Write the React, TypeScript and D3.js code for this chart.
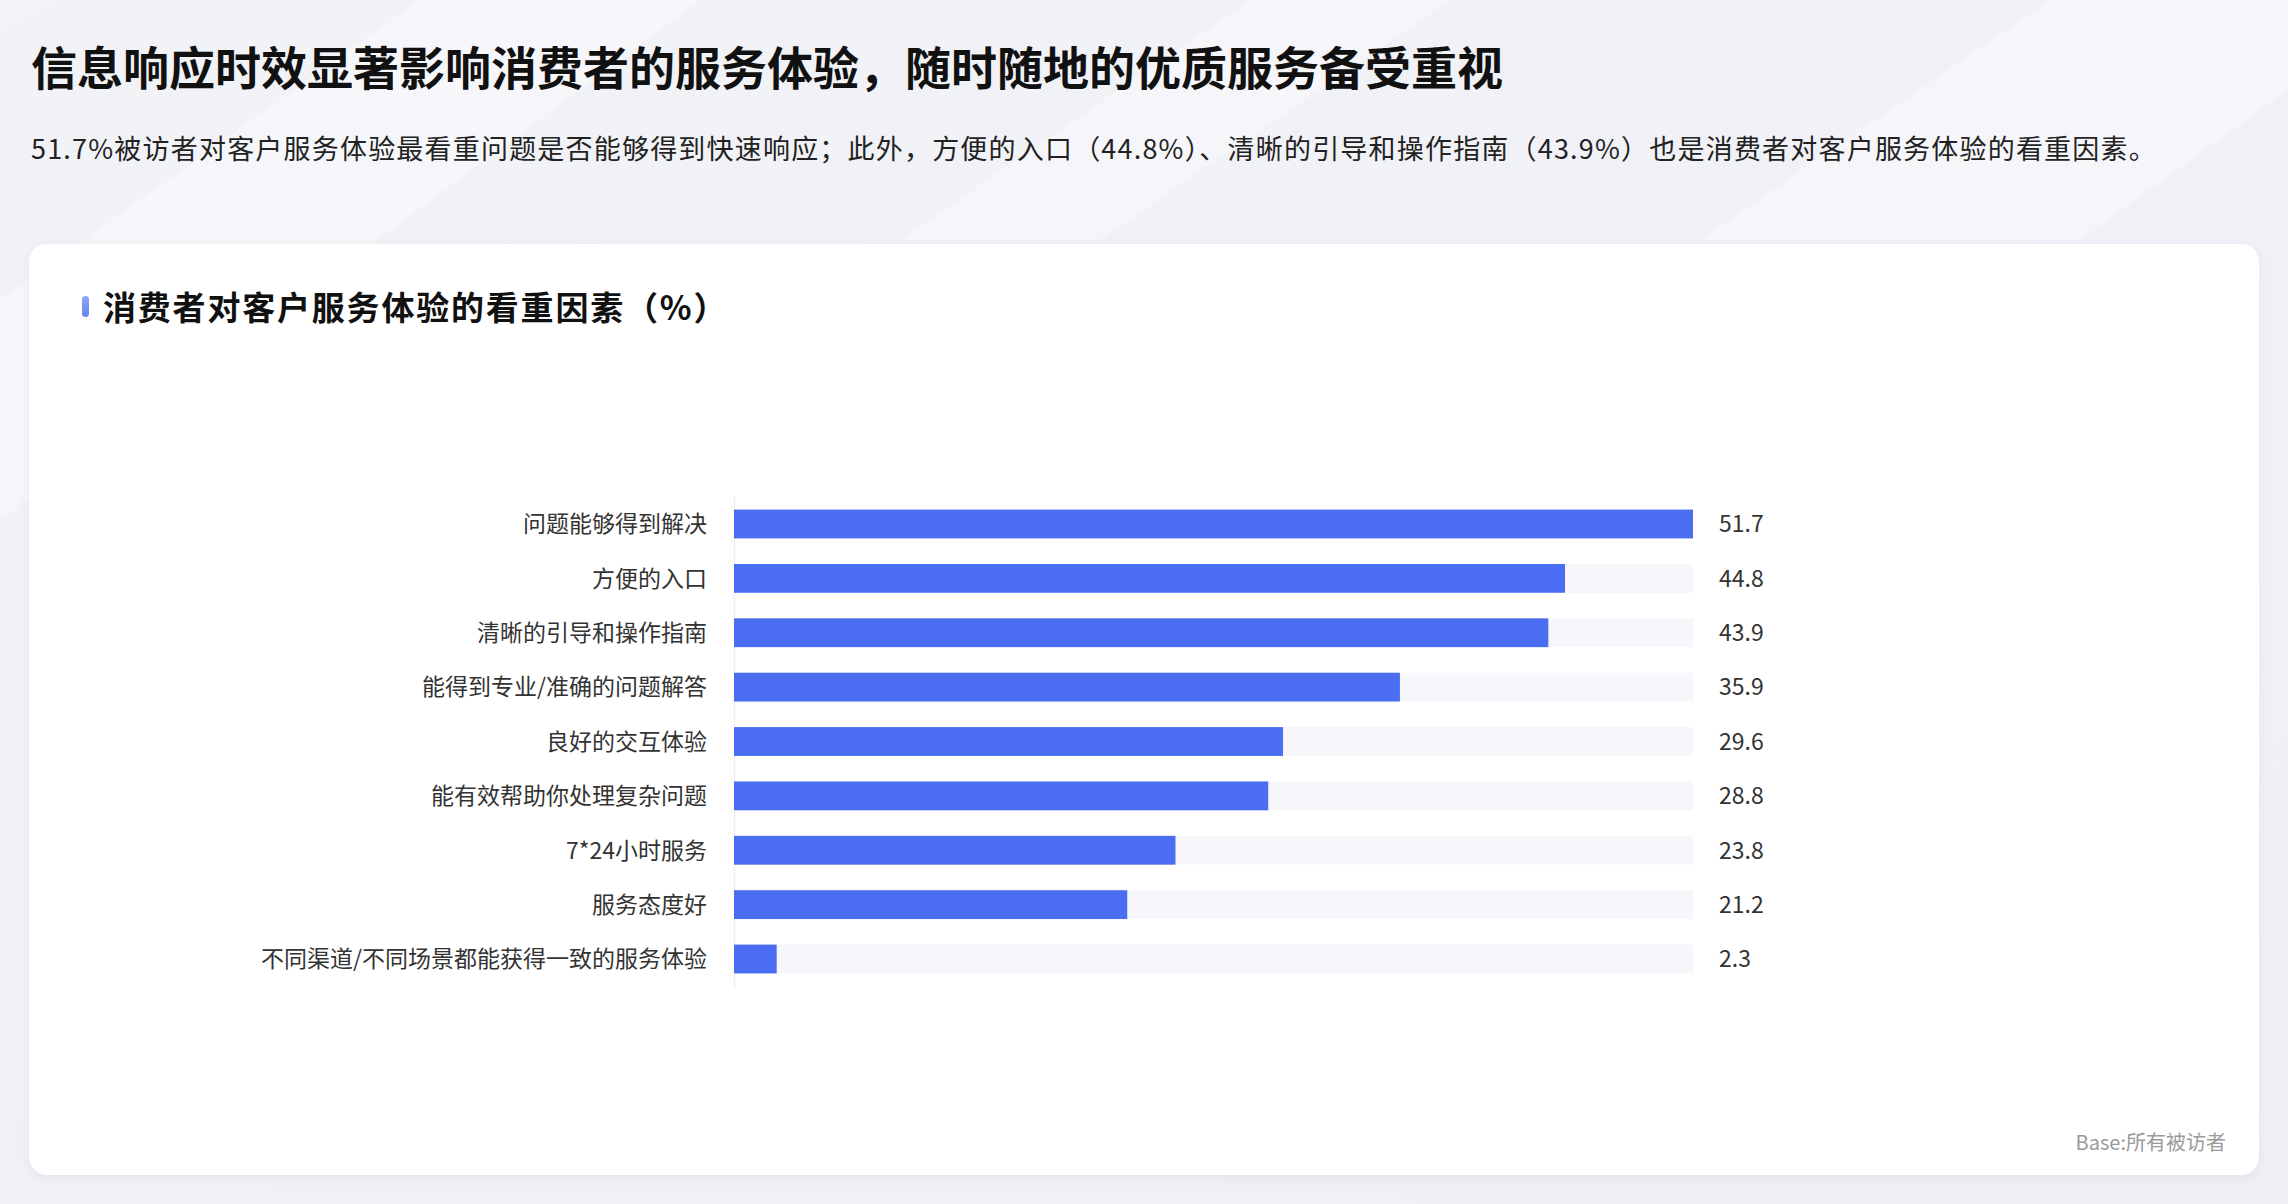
import React, { useEffect, useRef } from 'react';
import * as d3 from 'd3';

// chart data
const categories = [
  '问题能够得到解决',
  '方便的入口',
  '清晰的引导和操作指南',
  '能得到专业/准确的问题解答',
  '良好的交互体验',
  '能有效帮助你处理复杂问题',
  '7*24小时服务',
  '服务态度好',
  '不同渠道/不同场景都能获得一致的服务体验',
];
const values = [51.7, 44.8, 43.9, 35.9, 29.6, 28.8, 23.8, 21.2, 2.3];

const pageTitle = '信息响应时效显著影响消费者的服务体验，随时随地的优质服务备受重视';
const pageSubtitle =
  '51.7%被访者对客户服务体验最看重问题是否能够得到快速响应；此外，方便的入口（44.8%）、清晰的引导和操作指南（43.9%）也是消费者对客户服务体验的看重因素。';
const chartTitle = '消费者对客户服务体验的看重因素（%）';
const baseNote = 'Base:所有被访者';

const W = 2288;
const H = 1204;
const FONT = '"Noto Sans CJK SC", "Noto Sans", sans-serif';

const App: React.FC = () => {
  const svgRef = useRef<SVGSVGElement>(null);

  useEffect(() => {
    if (!svgRef.current) return;
    const svg = d3.select(svgRef.current).html('');

    const defs = svg.append('defs');
    const bg = defs.append('linearGradient').attr('id', 'bg').attr('x1', 0).attr('y1', 0).attr('x2', 1).attr('y2', 1);
    bg.append('stop').attr('offset', '0%').attr('stop-color', '#f2f3f7');
    bg.append('stop').attr('offset', '100%').attr('stop-color', '#eff0f5');
    const acc = defs.append('linearGradient').attr('id', 'acc').attr('x1', 0).attr('y1', 0).attr('x2', 0).attr('y2', 1);
    acc.append('stop').attr('offset', '0%').attr('stop-color', '#8aa6f8');
    acc.append('stop').attr('offset', '100%').attr('stop-color', '#6585f2');
    const shadow = defs.append('filter').attr('id', 'shadow').attr('x', '-5%').attr('y', '-5%').attr('width', '110%').attr('height', '115%');
    shadow.append('feDropShadow').attr('dx', 0).attr('dy', 3).attr('stdDeviation', 6)
      .attr('flood-color', '#a0a6bd').attr('flood-opacity', 0.18);

    // background with faint diagonal facets
    svg.append('rect').attr('width', W).attr('height', H).attr('fill', 'url(#bg)');
    const facets: [number, number][][] = [
      [[0, 300], [420, 0], [700, 0], [0, 520]],
      [[900, 240], [1250, 0], [1450, 0], [1100, 240]],
      [[1700, 240], [2050, 0], [2288, 0], [2288, 90], [2080, 240]],
    ];
    svg.append('g').selectAll('path').data(facets).join('path')
      .attr('d', d => d3.line()(d) + 'Z')
      .attr('fill', '#ffffff').attr('opacity', 0.35);

    // headings
    svg.append('text')
      .attr('x', 31).attr('y', 85)
      .attr('font-family', FONT).attr('font-size', 46).attr('font-weight', 700)
      .attr('fill', '#111').text(pageTitle);
    svg.append('text')
      .attr('x', 31).attr('y', 159)
      .attr('font-family', FONT).attr('font-size', 27).attr('letter-spacing', 1.2)
      .attr('fill', '#222').text(pageSubtitle);

    // card
    svg.append('rect')
      .attr('x', 29).attr('y', 244).attr('width', 2230).attr('height', 931)
      .attr('rx', 18).attr('fill', '#fff').attr('filter', 'url(#shadow)');

    svg.append('rect')
      .attr('x', 82).attr('y', 296).attr('width', 7).attr('height', 21)
      .attr('rx', 3.5).attr('fill', 'url(#acc)');
    svg.append('text')
      .attr('x', 103).attr('y', 320)
      .attr('font-family', FONT).attr('font-size', 33).attr('font-weight', 700)
      .attr('letter-spacing', 1.8)
      .attr('fill', '#111').text(chartTitle);

    // bar chart
    const x0 = 734;
    const x1 = 1693;
    const xScale = d3.scaleLinear().domain([0, d3.max(values) as number]).range([x0, x1]);
    const yScale = d3.scaleBand<string>().domain(categories).range([496, 987]).paddingInner(0.47).paddingOuter(0.25);

    const g = svg.append('g');

    // faint baseline
    g.append('line')
      .attr('x1', x0 + 0.5).attr('x2', x0 + 0.5).attr('y1', 496).attr('y2', 989)
      .attr('stroke', '#eef0f4').attr('stroke-width', 1.5);

    const rows = g.selectAll('g.row').data(categories).join('g').attr('class', 'row');

    rows.append('rect')
      .attr('x', x0).attr('y', d => yScale(d) as number)
      .attr('width', x1 - x0).attr('height', yScale.bandwidth())
      .attr('fill', '#f6f7fb');

    rows.append('rect')
      .attr('x', x0).attr('y', d => yScale(d) as number)
      .attr('width', (_, i) => xScale(values[i]) - x0).attr('height', yScale.bandwidth())
      .attr('fill', '#4a6df2');

    rows.append('text')
      .attr('x', 707).attr('y', d => (yScale(d) as number) + yScale.bandwidth() / 2)
      .attr('dy', '0.36em').attr('text-anchor', 'end')
      .attr('font-family', FONT).attr('font-size', 23).attr('fill', '#333')
      .text(d => d);

    rows.append('text')
      .attr('x', 1719).attr('y', d => (yScale(d) as number) + yScale.bandwidth() / 2)
      .attr('dy', '0.36em')
      .attr('font-family', FONT).attr('font-size', 23).attr('fill', '#333')
      .text((_, i) => d3.format('.1f')(values[i]));

    svg.append('text')
      .attr('x', 2226).attr('y', 1150).attr('text-anchor', 'end')
      .attr('font-family', FONT).attr('font-size', 20).attr('fill', '#9a9a9a')
      .text(baseNote);
  }, []);

  return (
    <div style={{ position: 'absolute', left: 0, top: 0 }}>
      <svg ref={svgRef} width={W} height={H} style={{ display: 'block' }}></svg>
    </div>
  );
};

export default App;
